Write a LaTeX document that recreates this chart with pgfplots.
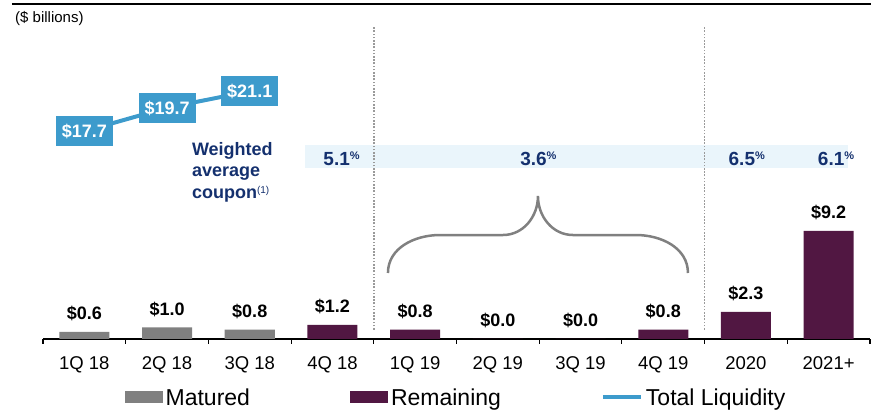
\documentclass[border=0pt]{standalone}
\usepackage{fontspec}
\setmainfont{Liberation Sans}
\usepackage{pgfplots}
\pgfplotsset{compat=1.18}

\definecolor{matgray}{HTML}{808080}
\definecolor{remain}{HTML}{511742}
\definecolor{liq}{HTML}{3D9BCC}
\definecolor{band}{HTML}{EAF5FB}
\definecolor{navy}{HTML}{14306E}
\definecolor{divgray}{HTML}{9A9A9A}

\newcommand{\fs}[1]{\fontsize{#1}{#1}\selectfont}
\newcommand{\pct}{\raisebox{5.7pt}{\fs{11}\%}}

\begin{document}
\begin{tikzpicture}
\begin{axis}[
  name=ax,
  scale only axis,
  width=827pt, height=328.7pt,
  xmin=-0.5, xmax=9.5,
  ymin=0, ymax=28,
  clip=false,
  axis x line*=bottom,
  hide y axis,
  x axis line style={-, line width=1.3pt, black},
  xtick={0,...,9},
  xticklabels={1Q 18,2Q 18,3Q 18,4Q 18,1Q 19,2Q 19,3Q 19,4Q 19,2020,2021+},
  minor xtick={-0.5,0.5,...,9.5},
  major tick length=0pt,
  minor tick length=5pt,
  tick align=outside,
  minor tick style={black, line width=1.1pt},
  xticklabel style={font=\fs{18.5}, anchor=base, yshift=-31pt},
  /pgf/number format/assume math mode=true,
  legend columns=3,
  legend style={at={(0.5,-0.1765)}, anchor=center, draw=none, fill=none, inner sep=0pt,
    font=\fs{23},
    nodes={inner sep=0pt, inner xsep=3pt, text height=16pt, text depth=0pt},
    /tikz/every even column/.append style={column sep=97pt}},
]
% coupon band and dividers
\fill[band] (axis cs:2.668,14.57) rectangle (axis cs:9.234,16.52);
\draw[divgray, line width=1.6pt, dash pattern=on 1.6pt off 1.6pt] (axis cs:3.5,0.8) -- (axis cs:3.5,26.6);
\draw[divgray, line width=1.6pt, dash pattern=on 1.6pt off 1.6pt] (axis cs:7.5,0.8) -- (axis cs:7.5,26.6);

\addplot[ybar, bar width=50pt, bar shift=0pt, fill=matgray, draw=none,
  nodes near coords={\$\pgfmathprintnumber[fixed,fixed zerofill,precision=1]{\pgfplotspointmeta}},
  every node near coord/.append style={font=\bfseries\fs{18}, text=black, anchor=base, yshift=12pt},
  legend image code/.code={\fill[matgray] (0pt,-6pt) rectangle (38pt,6pt);}]
  coordinates {(0,0.6) (1,1.0) (2,0.8)};
\addlegendentry{Matured}

\addplot[ybar, bar width=50pt, bar shift=0pt, fill=remain, draw=none,
  nodes near coords={\$\pgfmathprintnumber[fixed,fixed zerofill,precision=1]{\pgfplotspointmeta}},
  every node near coord/.append style={font=\bfseries\fs{18}, text=black, anchor=base, yshift=12pt},
  legend image code/.code={\fill[remain] (0pt,-6pt) rectangle (38pt,6pt);}]
  coordinates {(3,1.2) (4,0.8) (5,0.0) (6,0.0) (7,0.8) (8,2.3) (9,9.2)};
\addlegendentry{Remaining}

\addplot[sharp plot, liq, line width=4pt, no markers,
  nodes near coords={\$\pgfmathprintnumber[fixed,fixed zerofill,precision=1]{\pgfplotspointmeta}},
  every node near coord/.append style={font=\bfseries\fs{18}, anchor=center, fill=liq, text=white,
    inner xsep=6pt, inner ysep=8.5pt, text height=13pt, text depth=0pt},
  legend image code/.code={\draw[liq, line width=4pt] (0pt,0pt) -- (38pt,0pt);}]
  coordinates {(0,17.7) (1,19.7) (2,21.1)};
\addlegendentry{Total Liquidity}

% coupon labels
\node[anchor=base, text=navy, font=\bfseries\fs{19}] at (axis cs:3.11,14.82) {5.1\pct};
\node[anchor=base, text=navy, font=\bfseries\fs{19}] at (axis cs:5.49,14.82) {3.6\pct};
\node[anchor=base, text=navy, font=\bfseries\fs{19}] at (axis cs:8.01,14.82) {6.5\pct};
\node[anchor=base, text=navy, font=\bfseries\fs{19}] at (axis cs:9.09,14.82) {6.1\pct};

\node[anchor=north west, inner sep=0pt, align=left, text=navy, font=\bfseries\fontsize{18}{21.5}\selectfont]
  at (axis cs:1.30,16.78) {Weighted\\average\\coupon\raisebox{5pt}{\mdseries\fs{10}(1)}};

% brace over 2019 quarters
\draw[matgray, line width=2.5pt, shift={(axis cs:5.485,12.18)}]
  (-150pt,-77pt) to[out=90,in=180] (-98pt,-39pt) -- (-35pt,-39pt) to[out=0,in=-90] (0pt,0pt)
  to[out=-90,in=180] (35pt,-39pt) -- (98pt,-39pt) to[out=0,in=90] (150pt,-77pt);
\end{axis}

\draw[black, line width=2.3pt] ([shift={(-31pt,335pt)}]ax.south west) -- ([shift={(828pt,335pt)}]ax.south west);
\node[anchor=west, inner sep=0pt, font=\fs{15}] at ([shift={(-28pt,320.5pt)}]ax.south west) {(\$ billions)};

\pgfresetboundingbox
\path[use as bounding box] ([shift={(-43pt,-72pt)}]ax.south west) rectangle ([shift={(828pt,339pt)}]ax.south west);
\end{tikzpicture}
\end{document}
